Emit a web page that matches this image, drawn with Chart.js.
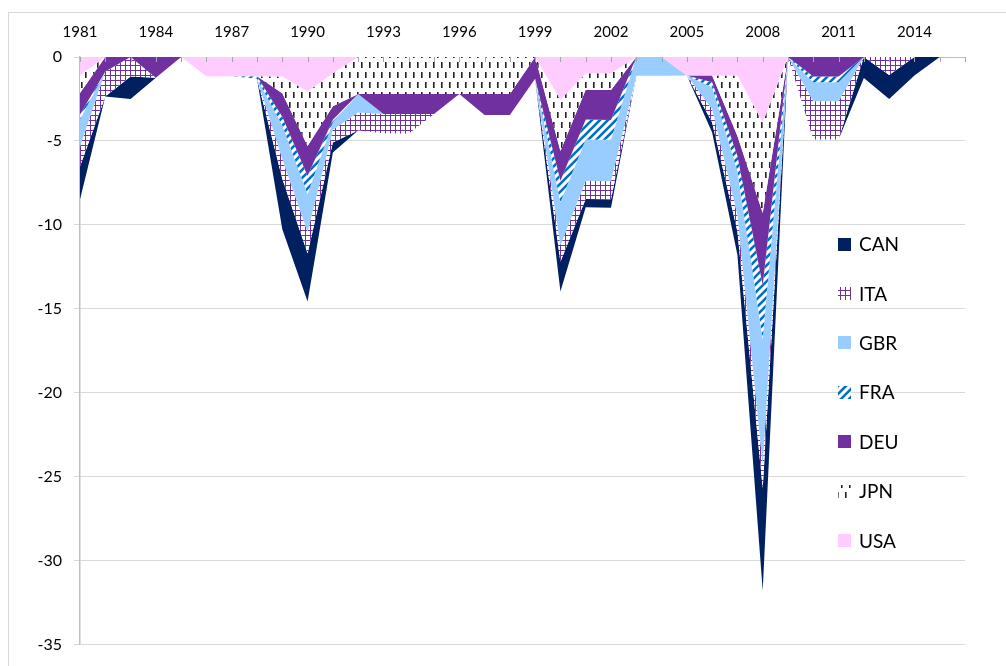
<!DOCTYPE html>
<html>
<head>
<meta charset="utf-8">
<script src="https://cdn.jsdelivr.net/npm/chart.js@4.4.1/dist/chart.umd.min.js"></script>
<style>
  html, body { margin: 0; padding: 0; background: #fff; }
  #wrap { position: relative; width: 1006px; height: 666px; overflow: hidden; }
  #frame { position: absolute; left: 8px; top: 12px; width: 1200px; height: 900px;
           border-left: 1px solid #D9D9D9; border-top: 1px solid #D9D9D9; }
  #c { position: absolute; left: 0; top: 0; }
</style>
</head>
<body>
<div id="wrap">
  <div id="frame"></div>
  <canvas id="c" width="1006" height="666"></canvas>
</div>
<script>
// Years on the category axis
const years = ['1981','1982','1983','1984','1985','1986','1987','1988','1989','1990',
               '1991','1992','1993','1994','1995','1996','1997','1998','1999','2000',
               '2001','2002','2003','2004','2005','2006','2007','2008','2009','2010',
               '2011','2012','2013','2014','2015','2016'];

// Country contributions (negative only), one value per year
const usa = [-1.08,0,0,0,0,-1.15,-1.15,-1.15,-1.16,-2.05,
             -0.97,0,0,0,0,0,0,0,0,-2.54,
             -0.97,-0.97,0,0,-1.1,-1.1,-1.1,-3.9,0,0,
             0,0,0,0,0,0];
const jpn = [-1.07,0,0,0,0,0,0,0,-1.0,-3.25,
             -1.97,-2.2,-2.2,-2.2,-2.2,-2.2,-2.2,-2.2,0,-3.06,
             -0.98,-1.0,0,0,0,0,-3.6,-5.4,0,0,
             0,0,0,0,0,0];
const deu = [-1.28,-0.87,0,-1.24,0,0,0,0,-1.4,-1.78,
             -0.8,0,-1.2,-1.2,-1.2,0,-1.25,-1.25,-1.3,-1.78,
             -1.78,-1.78,0,0,0,-0.4,-1.2,-4.3,0,-1.16,
             -1.16,0,0,0,0,0];
const fra = [-0.3,0,0,0,0,0,0,-0.15,-0.5,-1.09,
             -0.15,0,0,0,0,0,0,0,0,-1.28,
             -1.18,-1.18,0,0,0,-0.3,-0.9,-3.2,0,-0.35,
             -0.35,0,0,0,0,0];
const gbr = [-1.6,0,0,0,0,0,0,0,-2.0,-2.26,
             -0.45,-1.1,0,0,0,0,0,0,0,-2.56,
             -2.47,-2.47,-1.12,-1.12,0,-1.3,-2.6,-7.5,0,-1.13,
             -1.13,0,0,0,0,0];
const ita = [-1.2,-1.48,-1.16,0,0,0,0,0,-1.2,-1.28,
             -0.75,-1.08,-1.15,-1.18,0,0,0,0,0,-0.98,
             -1.08,-1.08,0,0,0,-0.8,-1.0,-1.4,0,-2.27,
             -2.27,0,-1.07,0,0,0];
const can = [-1.96,0,-1.34,0,0,0,0,0,-3.0,-2.86,
             -0.6,0,0,0,0,0,0,0,0,-1.78,
             -0.5,-0.5,0,0,0,-0.6,-1.4,-6.1,0,0,
             0,-1.25,-1.44,-1.1,0,0];

// Axis range and tick step
const yMin = -35, yMax = 0, yStep = 5;

// Fill patterns
function makePattern(w, h, draw) {
  const c = document.createElement('canvas');
  c.width = w; c.height = h;
  const g = c.getContext('2d');
  draw(g, w, h);
  return g.createPattern(c, 'repeat');
}
const gridPurple = makePattern(5, 5, (g, w, h) => {
  g.fillStyle = '#fff'; g.fillRect(0, 0, w, h);
  g.fillStyle = '#7030A0';
  g.fillRect(0, 0, w, 1); g.fillRect(0, 0, 1, h);
});
const stripeBlue = makePattern(8, 8, (g, w, h) => {
  g.fillStyle = '#fff'; g.fillRect(0, 0, w, h);
  g.strokeStyle = '#0070C0'; g.lineWidth = 2.6;
  g.beginPath();
  g.moveTo(-2, 10); g.lineTo(10, -2);
  g.moveTo(-6, 6); g.lineTo(6, -6);
  g.moveTo(2, 14); g.lineTo(14, 2);
  g.stroke();
});
const dashBlack = makePattern(8, 20, (g, w, h) => {
  g.fillStyle = '#fff'; g.fillRect(0, 0, w, h);
  g.fillStyle = '#222';
  g.fillRect(1, 2, 1.6, 6);
  g.fillRect(5, 12, 1.6, 6);
});

const series = [
  { label: 'USA', data: usa, fill: '#FFCCFF' },
  { label: 'JPN', data: jpn, fill: dashBlack },
  { label: 'DEU', data: deu, fill: '#7030A0' },
  { label: 'FRA', data: fra, fill: stripeBlue },
  { label: 'GBR', data: gbr, fill: '#99CCFF' },
  { label: 'ITA', data: ita, fill: gridPurple },
  { label: 'CAN', data: can, fill: '#002060' }
];

const FONT = 'Lato, "Open Sans", "DejaVu Sans", sans-serif';

// Short tick marks hanging below the top category axis
const innerTicks = {
  id: 'innerTicks',
  afterDatasetsDraw(chart) {
    const xs = chart.scales.x, top = chart.chartArea.top, ctx = chart.ctx;
    ctx.save();
    ctx.strokeStyle = '#A6A6A6';
    ctx.lineWidth = 1;
    ctx.beginPath();
    years.forEach((y, i) => {
      const x = Math.round(xs.getPixelForValue(i)) + 0.5;
      ctx.moveTo(x, top); ctx.lineTo(x, top + 5);
    });
    ctx.stroke();
    ctx.restore();
  }
};

// Vertical legend drawn inside the plot, outermost series first
const sideLegend = {
  id: 'sideLegend',
  afterDraw(chart) {
    const ctx = chart.ctx;
    const ds = chart.data.datasets;
    ctx.save();
    ctx.font = '19px ' + FONT;
    ctx.textBaseline = 'middle';
    ctx.textAlign = 'left';
    for (let k = 0; k < ds.length; k++) {
      const d = ds[ds.length - 1 - k];
      const cy = 244 + k * 49.4;
      ctx.fillStyle = d.backgroundColor;
      ctx.fillRect(838, Math.round(cy - 6.5), 13, 13);
      ctx.fillStyle = '#000';
      ctx.fillText(d.label, 859, cy + 1);
    }
    ctx.restore();
  }
};

new Chart(document.getElementById('c'), {
  type: 'line',
  data: {
    labels: years,
    datasets: series.map((s, i) => ({
      label: s.label,
      data: s.data,
      backgroundColor: s.fill,
      borderColor: 'rgba(0,0,0,0)',
      borderWidth: 0,
      pointRadius: 0,
      pointHoverRadius: 0,
      tension: 0,
      fill: i === 0 ? 'origin' : '-1'
    }))
  },
  options: {
    responsive: false,
    animation: false,
    devicePixelRatio: 1,
    layout: { padding: { left: 8, top: 12, right: 41, bottom: 15 } },
    plugins: { legend: { display: false }, tooltip: { enabled: false } },
    scales: {
      x: {
        type: 'category',
        position: 'top',
        offset: false,
        grid: { display: false, drawTicks: false },
        border: { display: true, color: '#BFBFBF', width: 1 },
        ticks: {
          autoSkip: false, maxRotation: 0, padding: 16, color: '#000',
          font: { family: FONT, size: 15 },
          callback: (v, i) => (i % 3 === 0 ? years[i] : '')
        },
        afterFit: s => { s.height = 45; }
      },
      y: {
        stacked: true,
        min: yMin, max: yMax,
        grid: { color: '#D9D9D9', lineWidth: 1, tickLength: 6 },
        border: { display: true, color: '#BFBFBF', width: 1.5 },
        ticks: {
          stepSize: yStep, padding: 12, color: '#000',
          font: { family: FONT, size: 16 }
        },
        afterFit: s => { s.width = 72; }
      }
    }
  },
  plugins: [innerTicks, sideLegend]
});
</script>
</body>
</html>
